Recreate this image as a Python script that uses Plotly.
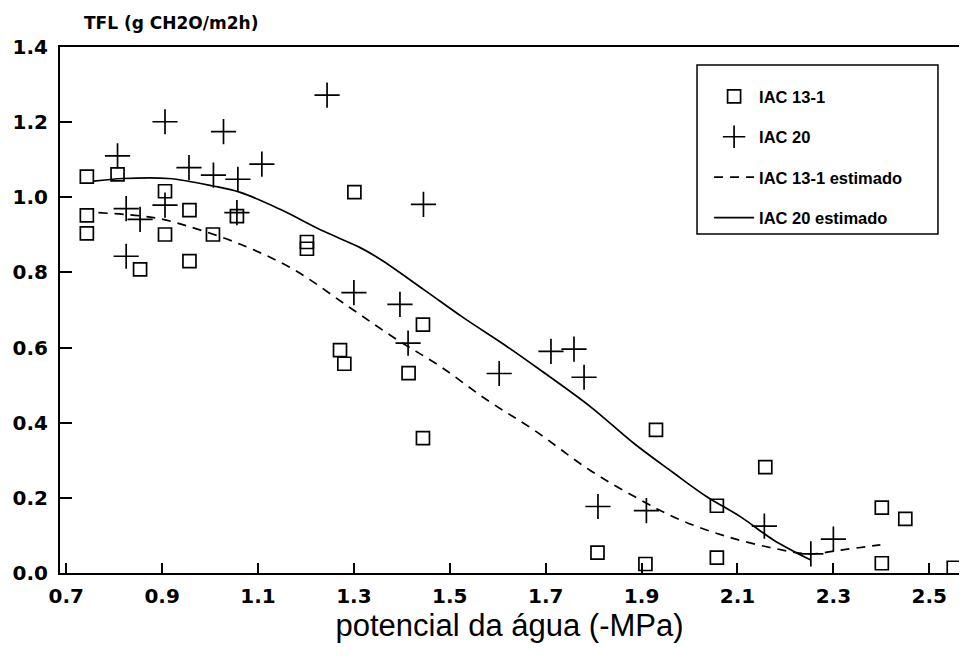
import plotly.graph_objects as go

# IAC 13-1 observed (squares)
iac131_x = [0.743, 0.743, 0.743, 0.807, 0.854, 0.906, 0.906, 0.957, 0.957, 1.006,
            1.056, 1.202, 1.202, 1.301, 1.271, 1.280, 1.414, 1.444, 1.444, 1.808,
            1.908, 1.930, 2.057, 2.057, 2.158, 2.401, 2.401, 2.450, 2.551]
iac131_y = [1.055, 0.952, 0.904, 1.061, 0.808, 1.016, 0.901, 0.966, 0.830, 0.901,
            0.950, 0.881, 0.863, 1.014, 0.593, 0.557, 0.532, 0.661, 0.359, 0.054,
            0.024, 0.381, 0.179, 0.041, 0.282, 0.174, 0.026, 0.144, 0.014]

# IAC 20 observed (crosses)
iac20_x = [0.807, 0.825, 0.825, 0.854, 0.906, 0.906, 0.956, 1.007, 1.028, 1.058,
           1.056, 1.108, 1.244, 1.300, 1.396, 1.413, 1.445, 1.603, 1.711, 1.759,
           1.780, 1.809, 1.910, 2.156, 2.253, 2.300]
iac20_y = [1.110, 0.970, 0.843, 0.941, 1.201, 0.979, 1.079, 1.059, 1.175, 1.048,
           0.959, 1.088, 1.272, 0.746, 0.715, 0.612, 0.981, 0.531, 0.590, 0.596,
           0.521, 0.177, 0.166, 0.125, 0.051, 0.090]

# IAC 13-1 estimated curve
est131_x = [0.767, 0.882, 0.951, 1.063, 1.174, 1.292, 1.390, 1.480, 1.577, 1.675,
            1.793, 1.897, 1.981, 2.078, 2.175, 2.252, 2.315, 2.398]
est131_y = [0.959, 0.946, 0.924, 0.875, 0.808, 0.706, 0.621, 0.550, 0.461, 0.381,
            0.273, 0.195, 0.141, 0.097, 0.066, 0.051, 0.061, 0.075]

# IAC 20 estimated curve
est20_x = [0.757, 0.819, 0.913, 1.007, 1.063, 1.146, 1.236, 1.313, 1.355, 1.445,
           1.529, 1.619, 1.688, 1.793, 1.883, 1.967, 2.036, 2.106, 2.175, 2.252]
est20_y = [1.043, 1.050, 1.050, 1.030, 1.013, 0.968, 0.910, 0.866, 0.835, 0.755,
           0.679, 0.603, 0.541, 0.443, 0.346, 0.266, 0.203, 0.150, 0.088, 0.035]

x_ticks = [0.7, 0.9, 1.1, 1.3, 1.5, 1.7, 1.9, 2.1, 2.3, 2.5]
x_labels = ["0.7", "0.9", "1.1", "1.3", "1.5", "1.7", "1.9", "2.1", "2.3", "2.5"]
y_ticks = [0.0, 0.2, 0.4, 0.6, 0.8, 1.0, 1.2, 1.4]

font_l = "Liberation Sans"
font_d = "DejaVu Sans"

fig = go.Figure()

fig.add_trace(go.Scatter(
    x=iac131_x, y=iac131_y, mode="markers", name="IAC 13-1", legendgroup="a",
    marker=dict(symbol="square-open", size=13, color="black", line=dict(width=1.7, color="black"))
))
fig.add_trace(go.Scatter(
    x=iac20_x, y=iac20_y, mode="markers", name="IAC 20", legendgroup="b",
    marker=dict(symbol="cross-thin-open", size=18, color="black", line=dict(width=1.7, color="black"))
))
fig.add_trace(go.Scatter(
    x=est131_x, y=est131_y, mode="lines", name="IAC 13-1 estimado", legendgroup="c",
    line=dict(color="black", width=1.7, dash="9px,7px", shape="spline")
))
fig.add_trace(go.Scatter(
    x=est20_x, y=est20_y, mode="lines", name="IAC 20 estimado", legendgroup="d",
    line=dict(color="black", width=1.7, shape="spline")
))

# page body adds an 8px margin, so the figure is sized to fit the window
fig.update_layout(
    width=953, height=646,
    margin=dict(l=52, r=2, t=39, b=81),
    paper_bgcolor="white", plot_bgcolor="white",
    font=dict(family=font_l, color="black"),
    showlegend=True,
    legend=dict(
        x=0.722, y=0.939, xanchor="left", yanchor="top",
        borderwidth=0, bgcolor="rgba(0,0,0,0)",
        font=dict(family=font_l, size=16.5, color="black", weight="bold"),
        traceorder="grouped", tracegroupgap=16, itemwidth=40,
    ),
    # legend frame (wider than plotly's own legend box)
    shapes=[dict(
        type="rect", xref="paper", yref="paper",
        x0=0.7086, x1=0.9766, y0=0.6445, y1=0.966,
        line=dict(color="black", width=1.5), fillcolor="white", layer="below",
    )],
    annotations=[dict(
        text="TFL (g CH2O/m2h)", xref="paper", yref="paper",
        x=0, y=1.0, xanchor="left", yanchor="bottom", xshift=22, yshift=12,
        showarrow=False, font=dict(family=font_d, size=17, color="black", weight="bold"),
    )],
)

fig.update_xaxes(
    range=[0.687, 2.562], tickvals=x_ticks, ticktext=x_labels, automargin=False,
    showgrid=False, zeroline=False, showline=True, linecolor="black", linewidth=2,
    mirror=True, ticks="inside", ticklen=10, tickcolor="black", tickwidth=1.5,
    tickfont=dict(family=font_d, size=20, color="black", weight="bold"),
    ticklabelstandoff=4,
    title=dict(text="potencial da água (-MPa)", font=dict(family=font_l, size=31, color="black"), standoff=2),
)
fig.update_yaxes(
    range=[0, 1.4], tickvals=y_ticks, tickformat=".1f", automargin=False,
    showgrid=False, zeroline=False, showline=True, linecolor="black", linewidth=2,
    ticks="inside", ticklen=12, tickcolor="black", tickwidth=1.5,
    tickfont=dict(family=font_d, size=20, color="black", weight="bold"),
    ticklabelstandoff=6,
)

fig.write_html("out.html")
